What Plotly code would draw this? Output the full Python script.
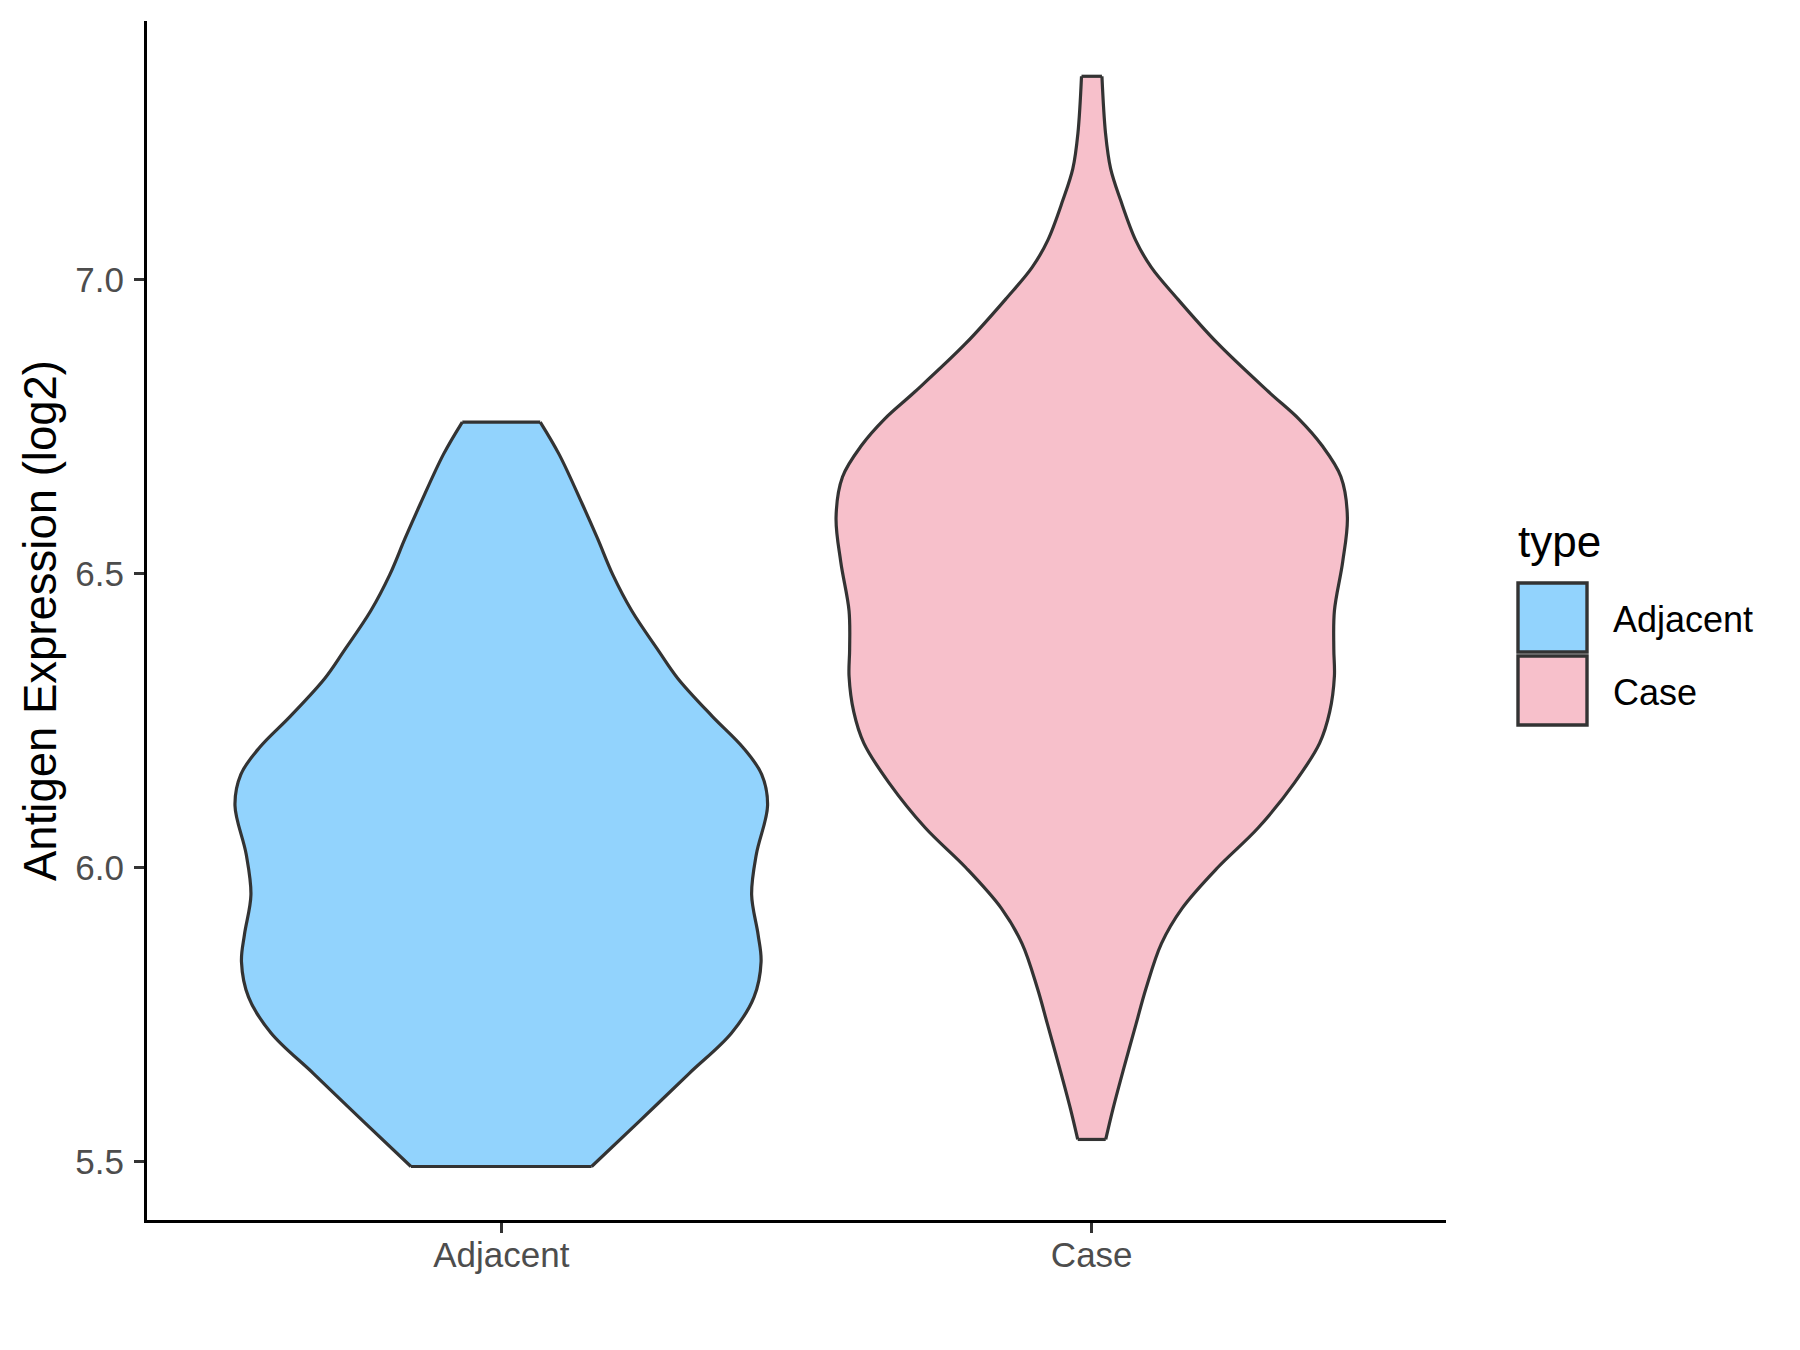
import plotly.graph_objects as go

# ---------------- data ----------------
categories = ["Adjacent", "Case"]

# violin outline: expression level (log2) and half-width (in category units)
adjacent_y = [5.492, 5.570, 5.650, 5.719, 5.780, 5.840, 5.886, 5.954, 6.023, 6.106,
              6.159, 6.205, 6.258, 6.322, 6.368, 6.437, 6.498, 6.560, 6.619, 6.703, 6.758]
adjacent_half = [0.153, 0.235, 0.318, 0.390, 0.428, 0.440, 0.435, 0.424, 0.432, 0.451,
                 0.441, 0.409, 0.357, 0.299, 0.267, 0.221, 0.189, 0.163, 0.137, 0.098, 0.066]

case_y = [5.538, 5.590, 5.658, 5.734, 5.795, 5.871, 5.931, 6.000, 6.068, 6.144,
          6.212, 6.265, 6.326, 6.372, 6.437, 6.520, 6.596, 6.665, 6.718, 6.763,
          6.809, 6.892, 6.969, 7.021, 7.067, 7.135, 7.189, 7.249, 7.346]
case_half = [0.0237, 0.036, 0.054, 0.075, 0.092, 0.118, 0.153, 0.213, 0.282, 0.343,
             0.386, 0.403, 0.411, 0.410, 0.411, 0.425, 0.433, 0.422, 0.390, 0.351,
             0.300, 0.213, 0.144, 0.101, 0.0745, 0.049, 0.032, 0.0234, 0.0173]

y_tickvals = [5.5, 6.0, 6.5, 7.0]
y_ticktext = ["5.5", "6.0", "6.5", "7.0"]

y_title = "Antigen Expression (log2)"
legend_title = "type"

# ---------------- styling ----------------
FONT = "Liberation Sans, Arial, sans-serif"
fill_colors = {"Adjacent": "#92D3FD", "Case": "#F7C0CB"}
outline_color = "#333333"
LW = 3.2

OFF = 8  # page body margin
W, H = 1800 - OFF, 1350 - OFF
ML, MT = 147 - OFF, 21 - OFF
MR = W - (1446 - OFF)
MB = H - (1220 - OFF)
plot_w = W - ML - MR
plot_h = H - MT - MB

fig = go.Figure()
series = {"Adjacent": (adjacent_y, adjacent_half), "Case": (case_y, case_half)}
for i, cat in enumerate(categories):
    ys, hs = series[cat]
    c = i + 1
    left_x = [c - h for h in hs]
    right_x = [c + h for h in hs]
    # left side outline
    fig.add_trace(go.Scatter(
        x=left_x, y=ys, mode="lines",
        line=dict(color=outline_color, width=LW, shape="spline", smoothing=1.0),
        showlegend=False, hoverinfo="skip",
    ))
    # right side outline, filled to the left side
    fig.add_trace(go.Scatter(
        x=right_x, y=ys, mode="lines", fill="tonextx",
        fillcolor=fill_colors[cat],
        line=dict(color=outline_color, width=LW, shape="spline", smoothing=1.0),
        name=cat, showlegend=False, hoverinfo="skip",
    ))
    # flat trimmed ends
    fig.add_trace(go.Scatter(
        x=[left_x[0], right_x[0], None, left_x[-1], right_x[-1]],
        y=[ys[0], ys[0], None, ys[-1], ys[-1]],
        mode="lines", line=dict(color=outline_color, width=LW),
        showlegend=False, hoverinfo="skip",
    ))

axis_common = dict(
    showline=True, linecolor="black", linewidth=3.2,
    ticks="outside", ticklen=10, tickwidth=3.0, tickcolor="#333333",
    tickfont=dict(family=FONT, size=35, color="#4D4D4D"),
    showgrid=False, zeroline=False,
)

fig.update_layout(
    width=W, height=H, autosize=False,
    margin=dict(l=ML, r=MR, t=MT, b=MB),
    paper_bgcolor="white", plot_bgcolor="white",
    xaxis=dict(range=[0.4, 2.6], tickvals=[1, 2], ticktext=categories,
               ticklabelstandoff=-8, **axis_common),
    yaxis=dict(range=[5.401, 7.440], tickvals=y_tickvals, ticktext=y_ticktext,
               ticklabelstandoff=3,
               title=dict(text=y_title, font=dict(family=FONT, size=45.5, color="black"),
                          standoff=5),
               **axis_common),
    showlegend=False,
)


def px_x(px):
    return (px - OFF - ML) / plot_w


def px_y(py):
    return (H - MB - (py - OFF)) / plot_h


# ---------------- custom legend (ggplot style) ----------------
key_x0, key_x1 = 1518, 1587
key_rows = [(583, 652), (656, 725)]
for cat, (y0, y1) in zip(categories, key_rows):
    fig.add_shape(type="rect", xref="paper", yref="paper",
                  x0=px_x(key_x0), x1=px_x(key_x1), y0=px_y(y1), y1=px_y(y0),
                  fillcolor=fill_colors[cat], line=dict(color=outline_color, width=3.4))
    fig.add_annotation(xref="paper", yref="paper", x=px_x(1611), y=px_y((y0 + y1) / 2 + 2),
                       text=cat, showarrow=False, xanchor="left", yanchor="middle",
                       font=dict(family=FONT, size=36, color="black"))

fig.add_annotation(xref="paper", yref="paper", x=px_x(1516), y=px_y(541),
                   text=legend_title, showarrow=False, xanchor="left", yanchor="middle",
                   font=dict(family=FONT, size=44, color="black"))

fig.write_html("out.html")
